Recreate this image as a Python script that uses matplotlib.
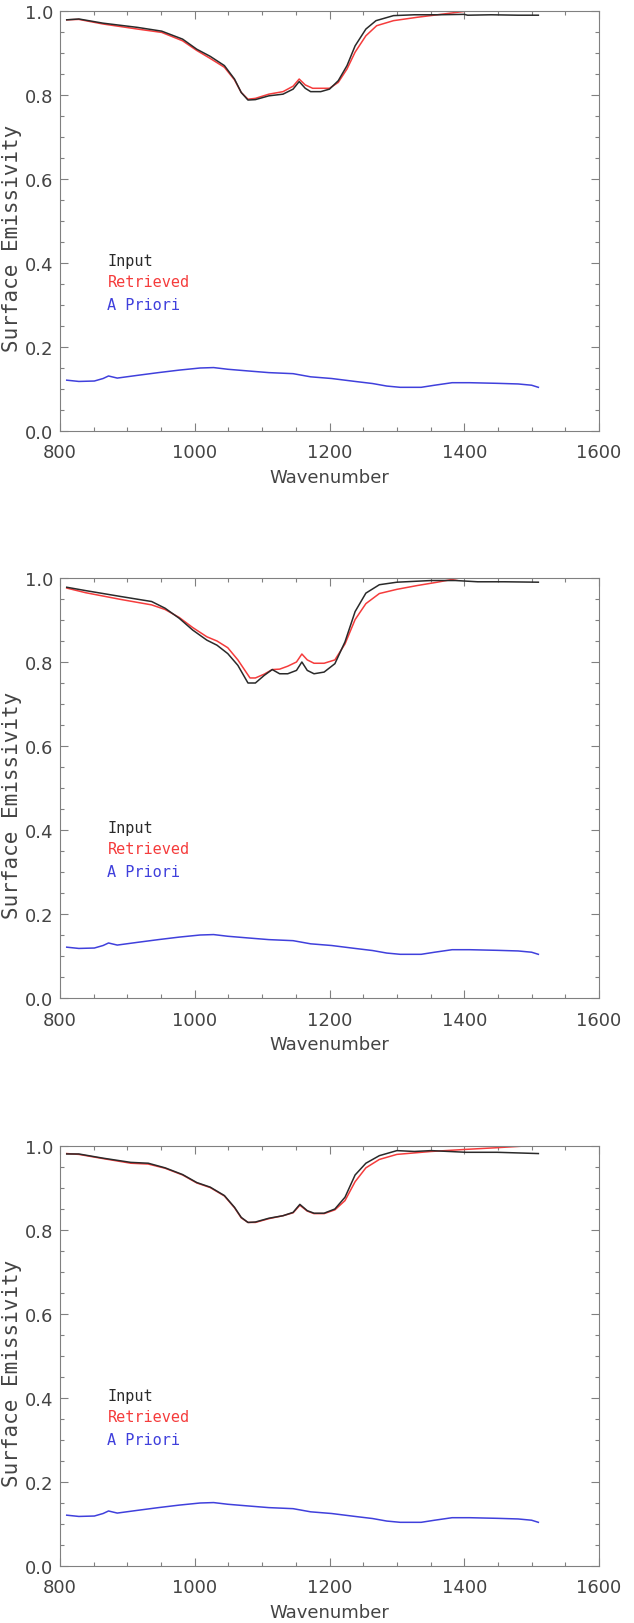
import matplotlib
matplotlib.use('Agg')
import matplotlib.pyplot as plt
from matplotlib.ticker import MultipleLocator, FormatStrFormatter

# =============================================================
# Data
# =============================================================

# A priori (same curve in all three panels)
wn_ap = [810, 828, 851, 864, 872, 885, 915, 946, 977, 1008, 1028, 1049, 1079,
         1110, 1146, 1172, 1203, 1238, 1264, 1285, 1305, 1336, 1356, 1382,
         1408, 1449, 1480, 1500, 1510]
em_ap = [0.121, 0.118, 0.119, 0.125, 0.131, 0.126, 0.1325, 0.139, 0.145, 0.150,
         0.151, 0.147, 0.143, 0.139, 0.1365, 0.129, 0.125, 0.118, 0.113, 0.107,
         0.104, 0.104, 0.109, 0.115, 0.115, 0.1135, 0.112, 0.109, 0.104]

# panel 1
wn_in1 = [810, 828, 864, 915, 951, 982, 1003, 1023, 1044, 1059, 1069, 1079, 1090,
          1110, 1131, 1146, 1155, 1164, 1172, 1187, 1200, 1213, 1226, 1238, 1254,
          1269, 1295, 1326, 1360, 1400, 1405, 1440, 1480, 1510]
em_in1 = [0.979, 0.981, 0.971, 0.961, 0.952, 0.933, 0.909, 0.892, 0.870, 0.838,
          0.806, 0.788, 0.789, 0.798, 0.802, 0.814, 0.832, 0.816, 0.808, 0.808,
          0.814, 0.834, 0.870, 0.917, 0.957, 0.977, 0.989, 0.991, 0.991, 0.992,
          0.990, 0.991, 0.990, 0.990]
wn_rt1 = [810, 828, 864, 915, 951, 982, 1003, 1023, 1044, 1059, 1069, 1079, 1090,
          1110, 1131, 1146, 1155, 1164, 1175, 1200, 1213, 1226, 1238, 1254, 1270,
          1295, 1330, 1370, 1400, 1430]
em_rt1 = [0.979, 0.980, 0.969, 0.957, 0.949, 0.929, 0.906, 0.887, 0.866, 0.836,
          0.806, 0.790, 0.792, 0.802, 0.808, 0.821, 0.838, 0.824, 0.816, 0.816,
          0.830, 0.862, 0.902, 0.941, 0.965, 0.977, 0.985, 0.993, 0.999, 1.01]

# panel 2
wn_in2 = [810, 838, 890, 936, 956, 977, 997, 1018, 1033, 1049, 1064, 1079, 1090,
          1103, 1115, 1126, 1138, 1151, 1159, 1167, 1177, 1192, 1208, 1223, 1238,
          1254, 1274, 1300, 1351, 1387, 1420, 1460, 1510]
em_in2 = [0.978, 0.970, 0.956, 0.944, 0.928, 0.904, 0.876, 0.852, 0.840, 0.820,
          0.792, 0.750, 0.750, 0.768, 0.782, 0.772, 0.772, 0.780, 0.800, 0.780,
          0.772, 0.776, 0.796, 0.848, 0.920, 0.964, 0.984, 0.990, 0.994, 0.994,
          0.991, 0.991, 0.990]
wn_rt2 = [810, 838, 890, 936, 956, 977, 997, 1018, 1033, 1049, 1064, 1082, 1090,
          1103, 1115, 1126, 1138, 1151, 1159, 1167, 1177, 1192, 1208, 1223, 1238,
          1254, 1274, 1300, 1330, 1360, 1390, 1420]
em_rt2 = [0.976, 0.965, 0.949, 0.936, 0.925, 0.906, 0.882, 0.860, 0.850, 0.834,
          0.805, 0.762, 0.762, 0.771, 0.782, 0.783, 0.790, 0.800, 0.819, 0.805,
          0.797, 0.797, 0.805, 0.843, 0.901, 0.939, 0.963, 0.973, 0.982, 0.990,
          0.999, 1.01]

# panel 3
wn_in3 = [810, 828, 864, 905, 931, 956, 982, 1003, 1023, 1044, 1059, 1069, 1079,
          1090, 1110, 1131, 1146, 1156, 1167, 1177, 1192, 1208, 1223, 1238, 1254,
          1274, 1300, 1326, 1351, 1403, 1449, 1490, 1510]
em_in3 = [0.981, 0.981, 0.971, 0.961, 0.959, 0.948, 0.932, 0.913, 0.902, 0.882,
          0.854, 0.830, 0.818, 0.819, 0.828, 0.834, 0.842, 0.861, 0.846, 0.840,
          0.840, 0.850, 0.878, 0.931, 0.959, 0.977, 0.989, 0.987, 0.989, 0.985,
          0.985, 0.983, 0.982]
wn_rt3 = [810, 828, 864, 905, 931, 956, 982, 1003, 1023, 1044, 1059, 1069, 1079,
          1090, 1110, 1131, 1146, 1156, 1167, 1177, 1192, 1208, 1223, 1238, 1254,
          1274, 1300, 1351, 1403, 1449, 1490, 1510]
em_rt3 = [0.982, 0.980, 0.970, 0.959, 0.957, 0.947, 0.931, 0.912, 0.901, 0.881,
          0.853, 0.829, 0.818, 0.818, 0.827, 0.834, 0.841, 0.859, 0.845, 0.839,
          0.839, 0.848, 0.870, 0.915, 0.948, 0.968, 0.980, 0.987, 0.992, 0.996,
          1.0, 1.003]

legend_labels = ['Input', 'Retrieved', 'A Priori']
legend_colors = ['#2a2a2a', '#f53c3c', '#4040dc']

# =============================================================
# Figure: three stacked panels
# =============================================================

fig = plt.figure(figsize=(6.34, 16.24), dpi=100)

W, H = 634, 1624
ax_left, ax_w, ax_h = 60 / W, 539 / W, 420 / H
bottoms = [1 - 432 / H, 1 - 999 / H, 1 - 1567 / H]

panels = [(wn_in1, em_in1, wn_rt1, em_rt1),
          (wn_in2, em_in2, wn_rt2, em_rt2),
          (wn_in3, em_in3, wn_rt3, em_rt3)]

for b, (xi, yi, xr, yr) in zip(bottoms, panels):
    ax = fig.add_axes([ax_left, b, ax_w, ax_h])

    ax.plot(wn_ap, em_ap, color=legend_colors[2], lw=1.1)
    ax.plot(xr, yr, color=legend_colors[1], lw=1.1)
    ax.plot(xi, yi, color=legend_colors[0], lw=1.1)

    ax.set_xlim(800, 1600)
    ax.set_ylim(0, 1.0)
    ax.xaxis.set_major_locator(MultipleLocator(200))
    ax.xaxis.set_minor_locator(MultipleLocator(50))
    ax.yaxis.set_major_locator(MultipleLocator(0.2))
    ax.yaxis.set_minor_locator(MultipleLocator(0.05))
    ax.yaxis.set_major_formatter(FormatStrFormatter('%.1f'))

    ax.tick_params(which='both', direction='in', top=True, right=True,
                   color='#808080', width=0.8, labelcolor='#444444',
                   labelsize=13)
    ax.tick_params(axis='x', pad=9)
    ax.tick_params(axis='y', pad=5)
    ax.tick_params(which='major', length=6)
    ax.tick_params(which='minor', length=3)
    for s in ax.spines.values():
        s.set_color('#808080')
        s.set_linewidth(0.8)

    ax.set_xlabel('Wavenumber', fontsize=13, color='#444444', labelpad=5)
    ax.set_ylabel('Surface Emissivity', fontsize=15, color='#444444',
                  family='DejaVu Sans Mono')
    ax.yaxis.set_label_coords(-0.071, 0.46)

    # hand-made legend: coloured text only
    for lab, col, yy in zip(legend_labels, legend_colors, [0.405, 0.355, 0.30]):
        ax.text(0.088, yy, lab, color=col, fontsize=11,
                family='DejaVu Sans Mono', va='center', transform=ax.transAxes)

fig.savefig('out.png', dpi=100)
